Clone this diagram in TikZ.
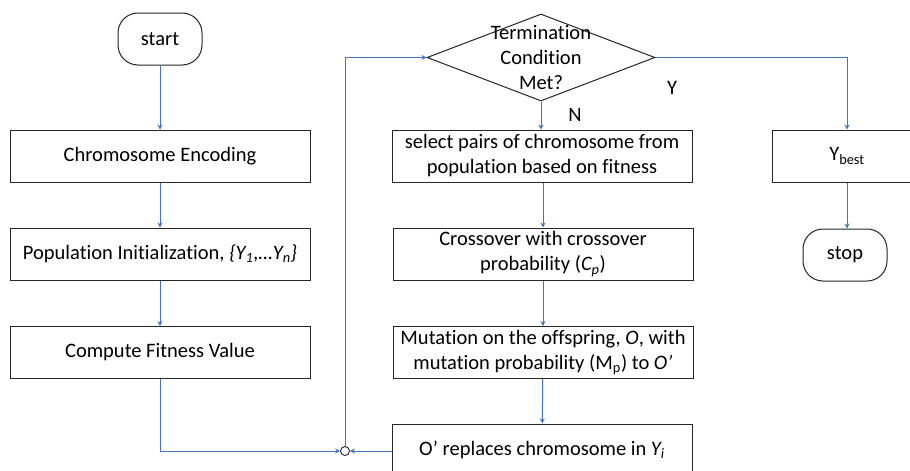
\documentclass[tikz,border=0pt]{standalone}
\usepackage{fontspec}
\setmainfont[Ligatures=NoCommon]{Carlito}
\usetikzlibrary{arrows.meta,shapes.geometric}
\definecolor{lineblue}{HTML}{4472C4}
\definecolor{edge}{HTML}{262626}
\newcommand\fs{\fontsize{20.5}{25}\selectfont}
\begin{document}
\begin{tikzpicture}[x=1pt,y=-1pt,
  box/.style={draw=edge, line width=1pt, minimum width=300pt, minimum height=52pt, inner sep=0pt, align=center, font=\fs},
  term/.style={draw=edge, line width=1pt, rounded corners=20pt, minimum width=84pt, minimum height=52pt, inner sep=0pt, font=\fs},
  decision/.style={draw=edge, line width=1pt, diamond, minimum width=228pt, minimum height=87pt, inner sep=0pt},
  flow/.style={draw=lineblue, line width=1pt, -{Stealth[length=5pt,width=5pt]}},
  lbl/.style={font=\fs, inner sep=0pt}]
\useasboundingbox (0,0) rectangle (910,471);
\clip (0,0) rectangle (910,471);
\fill[white] (0,0) rectangle (910,471);
% left column
\node[term] (start) at (160,39) {start};
\node[box] (enc) at (160,156) {Chromosome Encoding};
\node[box] (pop) at (160,254) {Population Initialization, \textit{\{Y\textsubscript{1},…Y\textsubscript{n}\}}};
\node[box] (fit) at (160,352.5) {Compute Fitness Value};
% middle column
\node[decision] (cond) at (541,57.5) {};
\node[font=\fs, align=center, inner sep=0pt] (condtxt) at (541,58) {Termination\\Condition\\Met?};
\node[box] (sel) at (542,156) {select pairs of chromosome from\\population based on fitness};
\node[box] (cross) at (543,254) {Crossover with crossover\\probability (\textit{C\textsubscript{p}})};
\node[box] (mut) at (543,352.5) {Mutation on the offspring, \textit{O}, with\\mutation probability (M\textsubscript{p}) to \textit{O’}};
\node[box] (rep) at (542,450) {O’ replaces chromosome in \textit{Y\textsubscript{i}}};
% right column
\node[box, minimum width=150pt] (best) at (847,156) {Y\textsubscript{best}};
\node[term] (stop) at (845,255) {stop};
% junction
\node[draw=edge, circle, inner sep=0pt, minimum size=9pt, line width=0.9pt] (junc) at (345,451) {};
% labels
\node[lbl] (nlab) at (575,115) {N};
\node[lbl] (ylab) at (672,88) {Y};
% connectors
\draw[flow] (start) -- (enc);
\draw[flow] (enc) -- (pop);
\draw[flow] (pop) -- (fit);
\draw[flow] (fit.south) |- (junc.west);
\draw[flow] (rep.west |- junc) -- (junc.east);
\draw[flow] (junc.north) |- (cond.west);
\draw[flow] (cond.south) -- (cond.south |- sel.north);
\draw[flow] (sel.south -| cross) -- (cross.north);
\draw[flow] (cross) -- (mut);
\draw[flow] (mut) -- (rep);
\draw[flow] (cond.east) -| (best.north);
\draw[flow] (best.south) -- (best.south |- stop.north);
\end{tikzpicture}
\end{document}
